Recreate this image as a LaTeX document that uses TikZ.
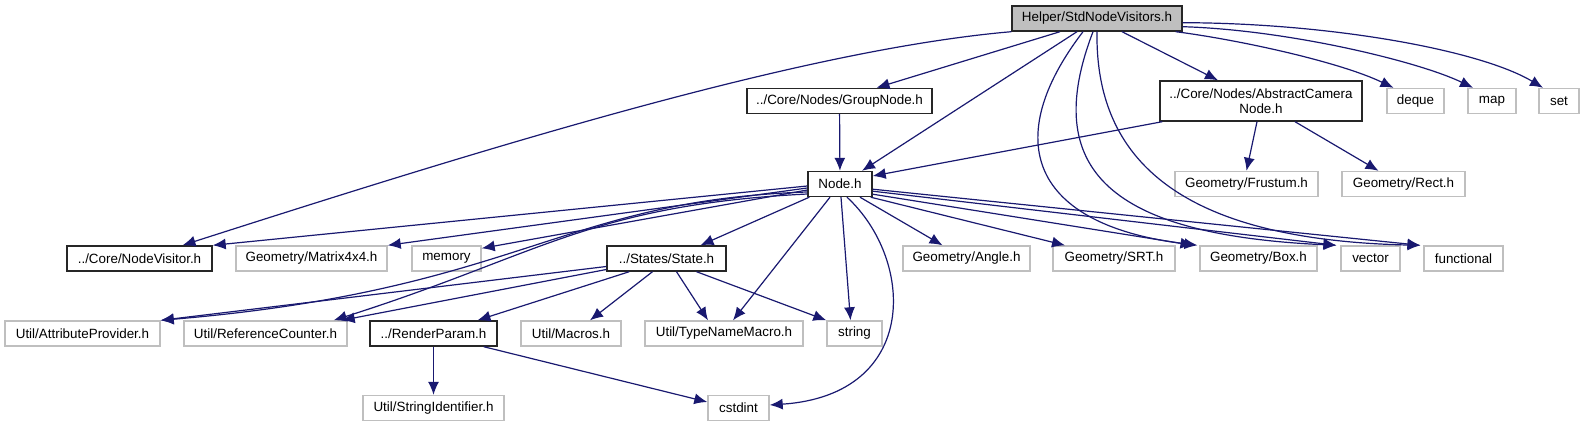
\documentclass[tikz,border=0pt]{standalone}
\usepackage{fontspec}
\setmainfont{Liberation Sans}
\usetikzlibrary{arrows.meta}
\definecolor{edgeblue}{HTML}{191970}
\definecolor{boxgray}{HTML}{BFBFBF}
\tikzset{
  incarrow/.style={-{Latex[length=13pt,width=11pt]}, line width=1.2pt, edgeblue},
  incfile/.style={draw=black!85, line width=1.4pt, fill=white, minimum height=25pt, inner sep=0pt, align=center},
  sysfile/.style={draw=boxgray, line width=1.4pt, fill=white, minimum height=25pt, inner sep=0pt},
  rootfile/.style={draw=black!85, line width=1.4pt, fill=boxgray, minimum height=25pt, inner sep=0pt}
}
\begin{document}
\begin{tikzpicture}[x=1pt, y=-1pt, every node/.style={font=\fontsize{13.4}{15}\selectfont}]
      \useasboundingbox (0,0) rectangle (1585,427);
      \node[rootfile, minimum width=170] (root) at (1097,18.5) {Helper/StdNodeVisitors.h};
      \node[incfile, minimum width=185] (groupnode) at (839.5,101) {../Core/Nodes/GroupNode.h};
      \node[incfile, minimum width=202, minimum height=40] (camnode) at (1261,101) {../Core/Nodes/AbstractCamera\\Node.h};
      \node[sysfile, minimum width=57] (dequeh) at (1415.5,101) {deque};
      \node[sysfile, minimum width=48] (maph) at (1492,101) {map};
      \node[sysfile, minimum width=40] (seth) at (1559,101) {set};
      \node[incfile, minimum width=64] (nodeh) at (840,184) {Node.h};
      \node[sysfile, minimum width=143] (frustumh) at (1246.5,184) {Geometry/Frustum.h};
      \node[sysfile, minimum width=123] (recth) at (1403.5,184) {Geometry/Rect.h};
      \node[incfile, minimum width=145] (visitor) at (139.5,258.5) {../Core/NodeVisitor.h};
      \node[sysfile, minimum width=151] (matrixh) at (311.5,258.5) {Geometry/Matrix4x4.h};
      \node[sysfile, minimum width=69] (memoryh) at (446.5,258.5) {memory};
      \node[incfile, minimum width=119] (stateh) at (666.5,258.5) {../States/State.h};
      \node[sysfile, minimum width=127] (angleh) at (966.5,258.5) {Geometry/Angle.h};
      \node[sysfile, minimum width=122] (srth) at (1114,258.5) {Geometry/SRT.h};
      \node[sysfile, minimum width=117] (boxh) at (1258.5,258.5) {Geometry/Box.h};
      \node[sysfile, minimum width=59] (vectorh) at (1370.5,258.5) {vector};
      \node[sysfile, minimum width=79] (functionalh) at (1463.5,258.5) {functional};
      \node[sysfile, minimum width=155] (attribh) at (82.5,333.5) {Util/AttributeProvider.h};
      \node[sysfile, minimum width=163] (refcounth) at (265.5,333.5) {Util/ReferenceCounter.h};
      \node[incfile, minimum width=127] (renderh) at (433.5,333.5) {../RenderParam.h};
      \node[sysfile, minimum width=100] (macrosh) at (571,333.5) {Util/Macros.h};
      \node[sysfile, minimum width=158] (typenameh) at (724,333.5) {Util/TypeNameMacro.h};
      \node[sysfile, minimum width=55] (stringh) at (854.5,333.5) {string};
      \node[sysfile, minimum width=141] (stringidh) at (433.5,408) {Util/StringIdentifier.h};
      \node[sysfile, minimum width=61] (cstdinth) at (738.5,408) {cstdint};
      \draw[incarrow] (root.south west) .. controls (800,50) and (480,150) .. ([xshift=43]visitor.north);
      \draw[incarrow] ([xshift=-37]root.south) -- ([xshift=37]groupnode.north);
      \draw[incarrow] ([xshift=-20]root.south) -- ([xshift=22]nodeh.north);
      \draw[incarrow] ([xshift=25]root.south) -- ([xshift=-43]camnode.north);
      \draw[incarrow] ([xshift=-7]root.south east) .. controls (1240,40) and (1340,62) .. ([xshift=-22]dequeh.north);
      \draw[incarrow] ([yshift=5]root.south east) .. controls (1290,30) and (1420,62) .. ([xshift=-19]maph.north);
      \draw[incarrow] ([yshift=9]root.south east) .. controls (1330,23) and (1480,50) .. ([xshift=-16]seth.north);
      \draw[incarrow] ([xshift=-14]root.south) .. controls (1000,140) and (1030,225) .. ([xshift=-61]boxh.north);
      \draw[incarrow] ([xshift=-4]root.south) .. controls (1040,170) and (1110,235) .. ([xshift=-34]vectorh.north);
      \draw[incarrow] (root.south) .. controls (1095,160) and (1180,240) .. ([xshift=-43]functionalh.north);
      \draw[incarrow] (groupnode) -- (nodeh);
      \draw[incarrow] ([xshift=3]camnode.south west) -- ([yshift=8]nodeh.east);
      \draw[incarrow] ([xshift=-4]camnode.south) -- (frustumh.north);
      \draw[incarrow] ([xshift=34]camnode.south) -- ([xshift=-25]recth.north);
      \draw[incarrow] ([yshift=-2]nodeh.west) -- (visitor.north east);
      \draw[incarrow] ([yshift=-4]nodeh.west) -- (matrixh.north east);
      \draw[incarrow] ([yshift=-6]nodeh.west) -- ([yshift=-3]memoryh.north east);
      \draw[incarrow] ([yshift=-8]nodeh.west) .. controls (560,200) and (520,290) .. (attribh.north east);
      \draw[incarrow] ([yshift=-10]nodeh.west) .. controls (590,205) and (540,255) .. ([xshift=-14]refcounth.north east);
      \draw[incarrow] ([xshift=2]nodeh.south west) -- ([xshift=34]stateh.north);
      \draw[incarrow] ([xshift=-10]nodeh.south) -- ([xshift=9]typenameh.north);
      \draw[incarrow] ([xshift=1]nodeh.south) -- ([xshift=-4]stringh.north);
      \draw[incarrow] ([xshift=7]nodeh.south) .. controls (915,260) and (920,395) .. ([yshift=3]cstdinth.east);
      \draw[incarrow] ([xshift=20]nodeh.south) -- ([xshift=-24]angleh.north);
      \draw[incarrow] ([xshift=-2]nodeh.south east) -- ([xshift=-49]srth.north);
      \draw[incarrow] ([yshift=3]nodeh.south east) -- ([xshift=-65]boxh.north);
      \draw[incarrow] ([yshift=6]nodeh.south east) -- ([xshift=-34]vectorh.north);
      \draw[incarrow] ([yshift=8]nodeh.south east) -- ([xshift=-43]functionalh.north);
      \draw[incarrow] ([yshift=-8]stateh.west) -- (attribh.north east);
      \draw[incarrow] ([yshift=-11]stateh.west) -- ([xshift=-6]refcounth.north east);
      \draw[incarrow] ([xshift=23]stateh.south west) -- ([xshift=44]renderh.north);
      \draw[incarrow] ([xshift=-14]stateh.south) -- ([xshift=19]macrosh.north);
      \draw[incarrow] ([xshift=10]stateh.south) -- ([xshift=-16]typenameh.north);
      \draw[incarrow] ([xshift=30]stateh.south) -- (stringh.north west);
      \draw[incarrow] (renderh) -- (stringidh);
      \draw[incarrow] ([xshift=-14]renderh.south east) -- ([yshift=6]cstdinth.west);
    \end{tikzpicture}
\end{document}
